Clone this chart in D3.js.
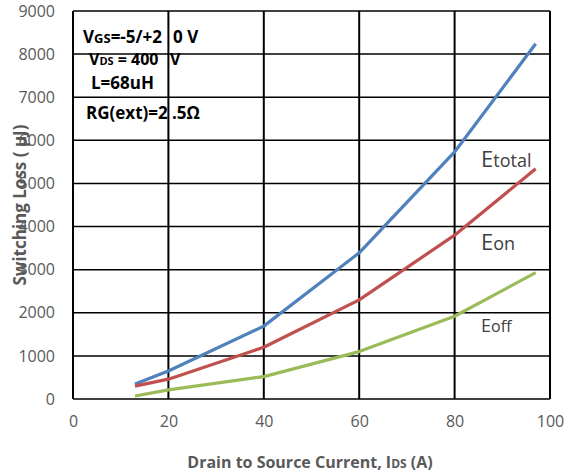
<!DOCTYPE html>
<html>
<head>
<meta charset="utf-8">
<script src="https://d3js.org/d3.v7.min.js"></script>
<style>
  body { margin: 0; background: #fff; }
  text { font-family: "Open Sans", "Lato", sans-serif; }
</style>
</head>
<body>
<div id="my_dataviz"></div>
<script>
// data
var current = [13, 20, 40, 60, 80, 97];
var eTotal = [350, 650, 1690, 3390, 5730, 8240];
var eOn = [300, 460, 1200, 2300, 3800, 5340];
var eOff = [70, 210, 520, 1100, 1920, 2930];
var xTicks = [0, 20, 40, 60, 80, 100];
var yTicks = [0, 1000, 2000, 3000, 4000, 5000, 6000, 7000, 8000, 9000];

var series = [
  {name: "Etotal", values: eTotal, color: "#4F81BD"},
  {name: "Eon", values: eOn, color: "#C0504D"},
  {name: "Eoff", values: eOff, color: "#9BBB59"}
];

var margin = {top: 11, right: 16, bottom: 77, left: 73},
    width = 566 - margin.left - margin.right,
    height = 476 - margin.top - margin.bottom;

var svg = d3.select("#my_dataviz")
  .append("svg")
  .attr("width", 566)
  .attr("height", 476)
  .append("g")
  .attr("transform", "translate(" + margin.left + "," + margin.top + ")");

var x = d3.scaleLinear().domain([0, 100]).range([0, width]);
var y = d3.scaleLinear().domain([0, 9000]).range([height, 0]);

// grid
svg.selectAll(".hgrid")
  .data(yTicks)
  .enter().append("line")
  .attr("x1", 0).attr("x2", width)
  .attr("y1", function(d) { return y(d); })
  .attr("y2", function(d) { return y(d); })
  .style("stroke", "#000").style("stroke-width", 1.5);
svg.selectAll(".vgrid")
  .data(xTicks)
  .enter().append("line")
  .attr("y1", 0).attr("y2", height)
  .attr("x1", function(d) { return x(d); })
  .attr("x2", function(d) { return x(d); })
  .style("stroke", "#000").style("stroke-width", 2);

// axes (labels only)
var yAxis = svg.append("g")
  .call(d3.axisLeft(y).tickValues(yTicks).tickSize(0).tickPadding(18).tickFormat(d3.format("d")));
yAxis.select(".domain").remove();
yAxis.selectAll("text")
  .style("font-family", "Open Sans, sans-serif")
  .style("font-size", "16px")
  .style("fill", "#595959");

var xAxis = svg.append("g")
  .attr("transform", "translate(0," + height + ")")
  .call(d3.axisBottom(x).tickValues(xTicks).tickSize(0).tickPadding(17).tickFormat(d3.format("d")));
xAxis.select(".domain").remove();
xAxis.selectAll("text")
  .style("font-family", "Open Sans, sans-serif")
  .style("font-size", "16px")
  .style("fill", "#595959");

// lines
var line = d3.line()
  .x(function(d, i) { return x(current[i]); })
  .y(function(d) { return y(d); });

svg.selectAll(".series")
  .data(series)
  .enter().append("path")
  .attr("d", function(d) { return line(d.values); })
  .style("fill", "none")
  .style("stroke", function(d) { return d.color; })
  .style("stroke-width", 3.2)
  .style("stroke-linejoin", "round");

// curve labels
function curveLabel(sub, px, py, big, small) {
  var t = svg.append("text")
    .attr("x", px - margin.left)
    .attr("y", py - margin.top)
    .style("fill", "#404040");
  t.append("tspan").style("font-size", big + "px").text("E");
  t.append("tspan").style("font-size", small + "px").text(sub);
}
curveLabel("total", 481, 167, 22, 18);
curveLabel("on", 481, 250, 22, 18);
curveLabel("off", 481, 332, 18, 16);

// conditions box text
function cond(parts, px, py) {
  var t = svg.append("text")
    .attr("x", px - margin.left)
    .attr("y", py - margin.top)
    .style("font-weight", "bold")
    .style("fill", "#000");
  parts.forEach(function(p) {
    t.append("tspan").style("font-size", p[1] + "px").text(p[0]);
  });
}
cond([["V", 17], ["GS", 13], ["=-5/+2", 17]], 83, 43);
cond([["0 V", 17]], 173, 43);
cond([["V", 16], ["DS", 11], [" = 400", 16]], 89, 65);
cond([["V", 16]], 170, 65);
cond([["L=68uH", 17]], 91, 89);
cond([["RG(ext)=2", 17]], 86, 119);
cond([[".5Ω", 17]], 172, 119);

// axis titles
svg.append("text")
  .attr("transform", "rotate(-90)")
  .attr("x", -(205 - margin.top))
  .attr("y", 26 - margin.left)
  .style("text-anchor", "middle")
  .style("font-size", "17px")
  .style("font-weight", "bold")
  .style("fill", "#595959")
  .text("Switching Loss ( μJ)");

var xt = svg.append("text")
  .attr("x", 310 - margin.left)
  .attr("y", 468 - margin.top)
  .style("text-anchor", "middle")
  .style("font-weight", "bold")
  .style("fill", "#595959");
xt.append("tspan").style("font-size", "16px").text("Drain  to  Source  Current,  I");
xt.append("tspan").style("font-size", "12px").text("DS");
xt.append("tspan").style("font-size", "16px").text(" (A)");
</script>
</body>
</html>
